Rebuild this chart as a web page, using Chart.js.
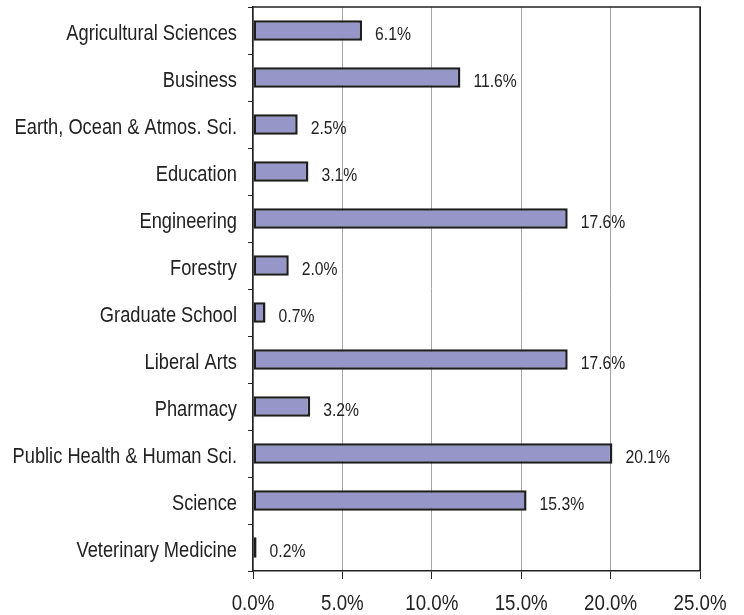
<!DOCTYPE html>
<html>
<head>
<meta charset="utf-8">
<script src="https://cdn.jsdelivr.net/npm/chart.js@4"></script>
<style>
html,body{margin:0;padding:0;background:#fff;}
#wrap{width:744px;height:615px;}
</style>
</head>
<body>
<div id="wrap"><canvas id="c" width="744" height="615"></canvas></div>
<script>
const categories = ["Agricultural Sciences","Business","Earth, Ocean & Atmos. Sci.","Education","Engineering","Forestry","Graduate School","Liberal Arts","Pharmacy","Public Health & Human Sci.","Science","Veterinary Medicine"];
const values = [6.1, 11.6, 2.5, 3.1, 17.6, 2.0, 0.7, 17.6, 3.2, 20.1, 15.3, 0.2];
const xTicks = [0, 5, 10, 15, 20, 25];

const FONT = "'Liberation Sans', Arial, sans-serif";
const SX = 0.85; // horizontal condensing of text, like a narrow face

function condensedText(ctx, text, x, y, align, size) {
  ctx.save();
  ctx.font = size + "px " + FONT;
  ctx.textBaseline = "alphabetic";
  ctx.textAlign = align;
  ctx.translate(x, y);
  ctx.scale(SX, 1);
  ctx.fillText(text, 0, 0);
  ctx.restore();
}

const textPlugin = {
  id: 'condensedLabels',
  afterDatasetsDraw(chart) {
    const ctx = chart.ctx;
    const meta = chart.getDatasetMeta(0);
    ctx.save();
    ctx.fillStyle = "#222";
    meta.data.forEach((bar, i) => {
      condensedText(ctx, values[i].toFixed(1) + "%", bar.x + 13, bar.y + 9, "left", 18.5);
    });
    ctx.restore();
  },
  afterDraw(chart) {
    const {ctx, chartArea} = chart;
    const xs = chart.scales.x, ys = chart.scales.y;
    ctx.save();
    ctx.strokeStyle = "#222";
    ctx.lineWidth = 1.5;
    ctx.beginPath();
    ctx.moveTo(chartArea.left, chartArea.top);
    ctx.lineTo(chartArea.right, chartArea.top);
    ctx.lineTo(chartArea.right, chartArea.bottom);
    ctx.stroke();
    ctx.fillStyle = "#222";
    chart.data.labels.forEach((lab, i) => {
      condensedText(ctx, lab, ys.left + ys.width - 16, ys.getPixelForTick(i) + 9.5, "right", 21.5);
    });
    xs.ticks.forEach((t) => {
      condensedText(ctx, t.value.toFixed(1) + "%", xs.getPixelForValue(t.value), chartArea.bottom + 39, "center", 22);
    });
    ctx.restore();
  }
};

new Chart(document.getElementById('c'), {
  type: 'bar',
  data: {
    labels: categories,
    datasets: [{
      data: values,
      backgroundColor: '#9696c8',
      borderColor: '#1e1e1e',
      borderWidth: 2.5,
      borderSkipped: false,
      categoryPercentage: 1,
      barPercentage: 0.44
    }]
  },
  options: {
    indexAxis: 'y',
    responsive: false,
    animation: false,
    devicePixelRatio: 1,
    layout: { padding: { left: 0, right: 44, top: 7, bottom: 0 } },
    plugins: { legend: { display: false }, tooltip: { enabled: false } },
    scales: {
      x: {
        min: 0, max: 25,
        afterBuildTicks(scale) { scale.ticks = xTicks.map(v => ({ value: v })); },
        afterFit(scale) { scale.height = 44; scale.paddingLeft = 0; scale.paddingRight = 0; },
        grid: {
          color: ctx => (ctx.tick && ctx.tick.value === 25) ? '#222' : '#a6a6a6',
          tickColor: '#222',
          tickLength: 8,
          lineWidth: 1
        },
        border: { display: true, color: '#222', width: 1.5 },
        ticks: { display: false }
      },
      y: {
        afterFit(scale) { scale.width = 253; scale.paddingTop = 0; scale.paddingBottom = 0; },
        grid: { drawOnChartArea: false, drawTicks: true, tickLength: 5, color: '#222', offset: true },
        border: { display: true, color: '#222', width: 1.5 },
        ticks: { display: false, autoSkip: false }
      }
    }
  },
  plugins: [textPlugin]
});
</script>
</body>
</html>
